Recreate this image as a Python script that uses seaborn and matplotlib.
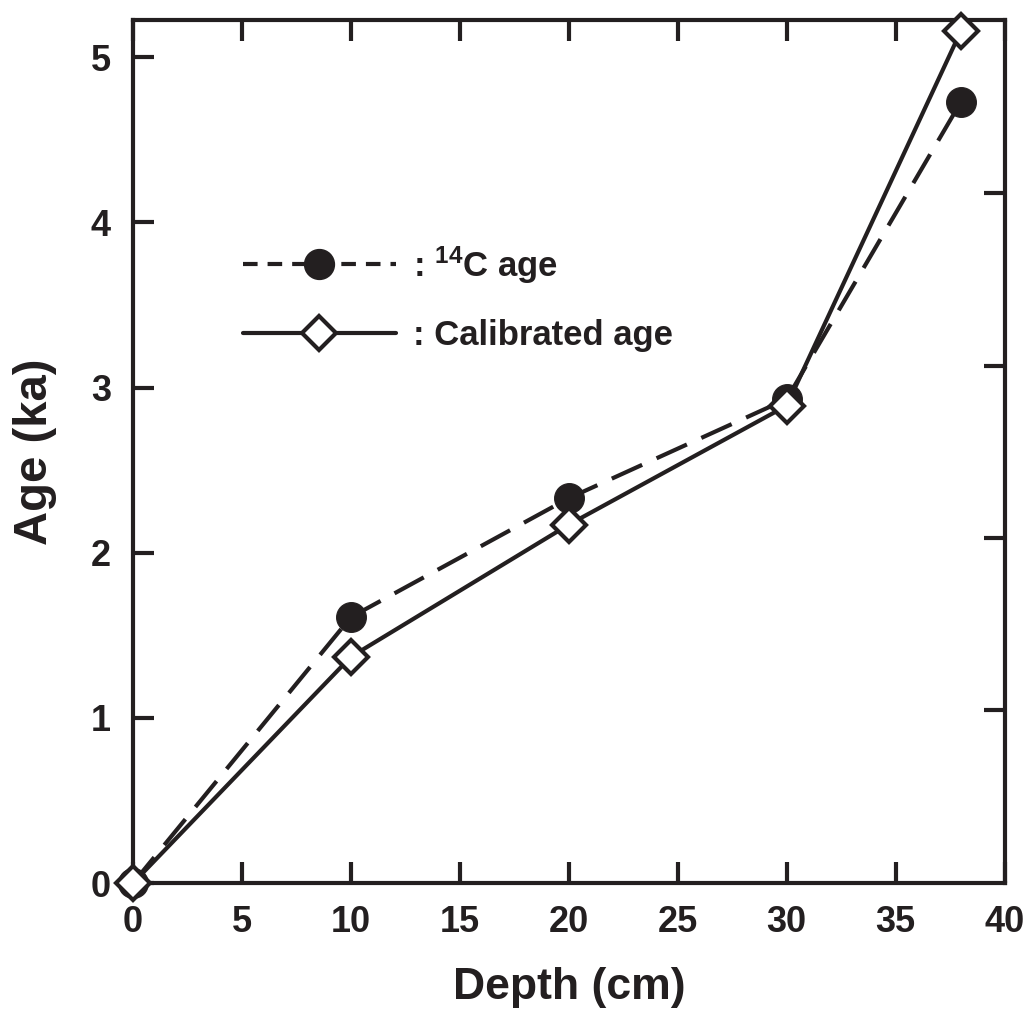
import numpy as np
import pandas as pd
import matplotlib
matplotlib.use("Agg")
import matplotlib.pyplot as plt
from matplotlib.lines import Line2D
import seaborn as sns

# datos
depth = [0, 10, 20, 30, 38]
age_14c = [0.0, 1.61, 2.33, 2.93, 4.73]
age_cal = [0.0, 1.37, 2.17, 2.89, 5.16]
x_ticks = [0, 5, 10, 15, 20, 25, 30, 35, 40]
y_ticks = [0, 1, 2, 3, 4, 5]
right_ticks = [1.05, 2.09, 3.13, 4.18]

sns.set_theme(style="ticks")
plt.rcParams['font.family'] = ['Liberation Sans', 'DejaVu Sans']
plt.rcParams['font.weight'] = 'bold'
plt.rcParams['mathtext.fontset'] = 'custom'
plt.rcParams['mathtext.rm'] = 'Liberation Sans:bold'
plt.rcParams['mathtext.it'] = 'Liberation Sans:bold'
plt.rcParams['mathtext.bf'] = 'Liberation Sans:bold'

df = pd.DataFrame({"depth": depth, "c14": age_14c, "cal": age_cal})
ink = "#231f20"

fig = plt.figure(figsize=(10.24, 10.11), dpi=100)
ax = fig.add_axes([0.130, 0.1266, 0.851, 0.8534])

# 14C: línea discontinua con círculos negros
sns.lineplot(data=df, x="depth", y="c14", ax=ax, color=ink, lw=3,
             ls=(0, (8, 3.8)), marker="o", markersize=21.5,
             markerfacecolor=ink, markeredgecolor=ink, zorder=3, clip_on=False)
# calibrada: línea continua con rombos blancos
sns.lineplot(data=df, x="depth", y="cal", ax=ax, color=ink, lw=3,
             marker="D", markersize=17, markerfacecolor="white",
             markeredgecolor=ink, markeredgewidth=3, zorder=4, clip_on=False)

ax.set_xlim(0, 40)
ax.set_ylim(0, 5.224)
ax.set_xticks(x_ticks)
ax.set_yticks(y_ticks)
ax.tick_params(direction="in", length=15, width=3, top=True, right=False,
               labelsize=26, pad=16, color=ink, labelcolor=ink)
for s in ax.spines.values():
    s.set_linewidth(3)
    s.set_color(ink)
ax.set_xlabel("Depth (cm)", fontsize=32, fontweight="bold", color=ink, labelpad=19)
ax.set_ylabel("Age (ka)", fontsize=34, fontweight="bold", color=ink, labelpad=24)

# marcas del eje derecho
ax2 = ax.twinx()
ax2.set_ylim(ax.get_ylim())
ax2.set_yticks(right_ticks)
ax2.set_yticklabels([])
ax2.tick_params(direction="in", length=15, width=3, color=ink)
for s in ax2.spines.values():
    s.set_visible(False)

# leyenda
handles = [
    Line2D([], [], color=ink, lw=3, ls=(0, (3.5, 2.4)), marker="o",
           markersize=21.5, markerfacecolor=ink, markeredgecolor=ink),
    Line2D([], [], color=ink, lw=3, marker="D", markersize=17,
           markerfacecolor="white", markeredgecolor=ink, markeredgewidth=3),
]
labels = [r": $^{14}$C age", ": Calibrated age"]
ax.legend(handles, labels, loc="center left", bbox_to_anchor=(0.126, 0.678),
          frameon=False, fontsize=25, handlelength=4.4, handletextpad=0.5,
          labelspacing=0.95, borderpad=0, borderaxespad=0, labelcolor=ink)

fig.savefig("out.png", dpi=100)
